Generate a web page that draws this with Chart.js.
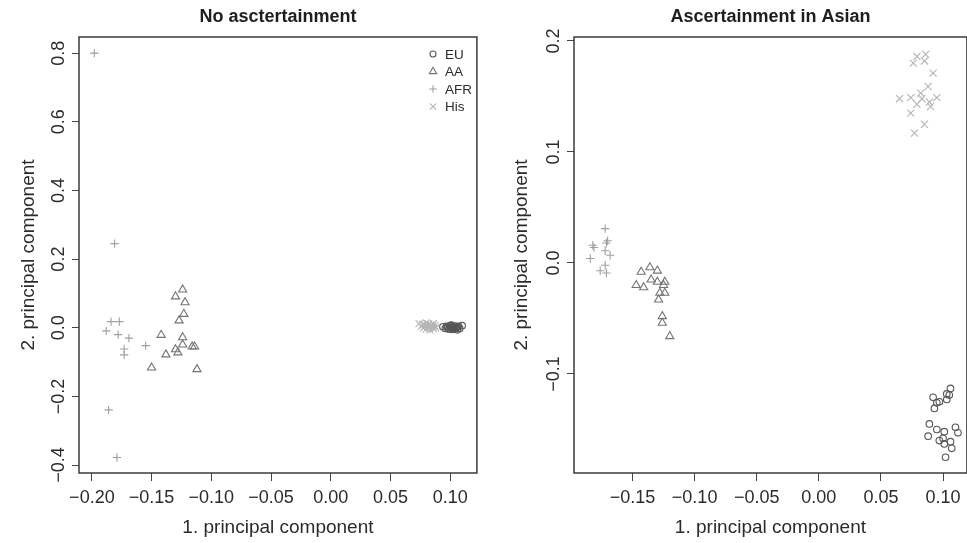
<!DOCTYPE html>
<html>
<head>
<meta charset="utf-8">
<script src="https://cdn.jsdelivr.net/npm/chart.js@4.4.1/dist/chart.umd.min.js"></script>
<style>
  html, body { margin: 0; padding: 0; background: #fff; overflow: hidden; }
  #wrap { position: relative; width: 967px; height: 543px; overflow: hidden; }
  #left { position: absolute; left: 0; top: 0; }
  #right { position: absolute; left: 483px; top: 0; }
</style>
</head>
<body>
<div id="wrap">
  <canvas id="left" width="483" height="543"></canvas>
  <canvas id="right" width="490" height="543"></canvas>
</div>
<script>
// group names, in legend order
const groups = ["EU", "AA", "AFR", "His"];

// panel 1: no ascertainment  [PC1, PC2]
const noAscEU = [[0.094, 0.003], [0.096, -0.002], [0.097, 0.004], [0.098, 0.000], [0.099, -0.004],
  [0.100, 0.002], [0.100, 0.006], [0.101, -0.001], [0.102, 0.003], [0.102, -0.005], [0.103, 0.001],
  [0.104, 0.005], [0.104, -0.003], [0.105, 0.000], [0.106, 0.002], [0.106, -0.006], [0.107, 0.004],
  [0.108, -0.002], [0.110, 0.006], [0.101, 0.008]];
const noAscAA = [[-0.124, 0.111], [-0.130, 0.091], [-0.122, 0.074], [-0.123, 0.040], [-0.127, 0.021],
  [-0.142, -0.021], [-0.124, -0.028], [-0.124, -0.049], [-0.130, -0.063], [-0.128, -0.072],
  [-0.138, -0.078], [-0.116, -0.055], [-0.114, -0.055], [-0.150, -0.116], [-0.112, -0.121]];
const noAscAFR = [[-0.198, 0.800], [-0.181, 0.245], [-0.184, 0.018], [-0.177, 0.018], [-0.188, -0.009],
  [-0.178, -0.020], [-0.169, -0.030], [-0.173, -0.062], [-0.173, -0.079], [-0.155, -0.052],
  [-0.186, -0.239], [-0.179, -0.378]];
const noAscHis = [[0.074, 0.012], [0.076, 0.004], [0.077, 0.010], [0.078, 0.000], [0.079, 0.008],
  [0.080, 0.014], [0.080, -0.004], [0.081, 0.005], [0.082, 0.011], [0.083, 0.001], [0.083, -0.006],
  [0.084, 0.008], [0.085, 0.003], [0.086, 0.012], [0.086, -0.002], [0.087, 0.006], [0.088, 0.000]];

// panel 2: ascertainment in Asian
const ascEU = [[0.106, -0.113], [0.103, -0.118], [0.105, -0.119], [0.092, -0.121], [0.097, -0.125],
  [0.095, -0.126], [0.103, -0.123], [0.093, -0.131], [0.089, -0.145], [0.095, -0.150], [0.101, -0.152],
  [0.110, -0.148], [0.112, -0.153], [0.088, -0.156], [0.097, -0.160], [0.100, -0.158], [0.101, -0.163],
  [0.106, -0.161], [0.107, -0.167], [0.102, -0.175]];
const ascAA = [[-0.143, -0.008], [-0.136, -0.004], [-0.130, -0.007], [-0.147, -0.020], [-0.141, -0.022],
  [-0.135, -0.015], [-0.130, -0.017], [-0.124, -0.017], [-0.125, -0.020], [-0.128, -0.027],
  [-0.124, -0.027], [-0.129, -0.033], [-0.126, -0.048], [-0.126, -0.054], [-0.120, -0.066]];
const ascAFR = [[-0.172, 0.031], [-0.182, 0.016], [-0.170, 0.020], [-0.171, 0.018], [-0.172, 0.011],
  [-0.168, 0.007], [-0.184, 0.004], [-0.172, -0.002], [-0.176, -0.007], [-0.171, -0.009], [-0.181, 0.014]];
const ascHis = [[0.079, 0.186], [0.086, 0.188], [0.076, 0.180], [0.085, 0.182], [0.092, 0.171],
  [0.088, 0.159], [0.065, 0.148], [0.074, 0.149], [0.082, 0.153], [0.083, 0.148], [0.079, 0.143],
  [0.089, 0.145], [0.095, 0.149], [0.090, 0.141], [0.074, 0.135], [0.085, 0.125], [0.077, 0.117]];

// tick values
const noAscXTicks = [-0.20, -0.15, -0.10, -0.05, 0.00, 0.05, 0.10];
const noAscYTicks = [-0.4, -0.2, 0.0, 0.2, 0.4, 0.6, 0.8];
const ascXTicks = [-0.15, -0.10, -0.05, 0.00, 0.05, 0.10];
const ascYTicks = [-0.1, 0.0, 0.1, 0.2];

const symbols = {
  EU:  { pointStyle: "circle",   radius: 3.3, color: "#555555" },
  AA:  { pointStyle: "triangle", radius: 4.7, color: "#747474" },
  AFR: { pointStyle: "cross",    radius: 4.2, color: "#a0a0a0" },
  His: { pointStyle: "crossRot", radius: 5,   color: "#b5b5b5" },
};

const textColor = "#2b2b2b";
const axisColor = "#444";
Chart.defaults.font.family = '"Liberation Sans", Arial, Helvetica, sans-serif';

function fmt(v, d) {
  const s = (Math.abs(v) < 1e-9 ? 0 : v).toFixed(d);
  return s.replace("-", "\u2212");
}

function toPoints(pairs) {
  return pairs.map(p => ({ x: p[0], y: p[1] }));
}

function makeDatasets(series) {
  return groups.map((g, i) => ({
    label: g,
    data: toPoints(series[i]),
    pointStyle: symbols[g].pointStyle,
    pointRadius: symbols[g].radius,
    pointBorderWidth: 1.1,
    borderColor: symbols[g].color,
    backgroundColor: "rgba(0,0,0,0)",
  }));
}

const boxPlugin = {
  id: "box",
  afterDraw(chart) {
    const a = chart.chartArea;
    const ctx = chart.ctx;
    ctx.save();
    ctx.strokeStyle = "#3a3a3a";
    ctx.lineWidth = 1.5;
    ctx.strokeRect(a.left, a.top, a.right - a.left, a.bottom - a.top);
    ctx.restore();
  },
};

const legendPlugin = {
  id: "innerLegend",
  afterDraw(chart, args, opts) {
    if (!opts.show) return;
    const ctx = chart.ctx;
    chart.data.datasets.forEach((ds, i) => {
      const y = opts.y + i * opts.step;
      ctx.save();
      ctx.strokeStyle = ds.borderColor;
      ctx.fillStyle = "rgba(0,0,0,0)";
      ctx.lineWidth = 1.1;
      Chart.helpers.drawPoint(ctx, { pointStyle: ds.pointStyle, radius: ds.pointRadius * 0.9, borderWidth: 1, rotation: 0 }, opts.x, y);
      ctx.fillStyle = textColor;
      ctx.font = '13.5px "Liberation Sans", Arial, sans-serif';
      ctx.textBaseline = "middle";
      ctx.fillText(ds.label, opts.x + 12, y + 1);
      ctx.restore();
    });
  },
};

function makeChart(id, cfg) {
  const xTicks = cfg.xTicks, yTicks = cfg.yTicks;
  return new Chart(document.getElementById(id), {
    type: "scatter",
    data: { datasets: makeDatasets(cfg.series) },
    plugins: [boxPlugin, legendPlugin],
    options: {
      responsive: false,
      animation: false,
      events: [],
      layout: { padding: { left: 0, right: 3, top: 0, bottom: 0 } },
      plugins: {
        legend: { display: false },
        tooltip: { enabled: false },
        title: {
          display: true, text: cfg.title, fullSize: false, color: "#1e1e1e",
          font: { size: 18, weight: "bold" }, padding: { top: 6, bottom: 9.4 },
        },
        innerLegend: cfg.legend,
      },
      scales: {
        x: {
          type: "linear", min: cfg.xMin, max: cfg.xMax,
          border: { display: false },
          grid: { drawOnChartArea: false, tickLength: 8, color: axisColor },
          afterBuildTicks: s => { s.ticks = xTicks.map(v => ({ value: v })); },
          ticks: {
            autoSkip: false, maxRotation: 0, padding: 6, color: textColor,
            font: { size: 18 }, callback: v => fmt(v, 2),
          },
          title: {
            display: true, text: "1. principal component", color: textColor,
            font: { size: 19 }, padding: { top: 0, bottom: 4 },
          },
          afterFit: s => { s.height = 70; },
        },
        y: {
          type: "linear", min: cfg.yMin, max: cfg.yMax,
          border: { display: false },
          grid: { drawOnChartArea: false, tickLength: 7, color: axisColor },
          afterBuildTicks: s => { s.ticks = yTicks.map(v => ({ value: v })); },
          ticks: {
            autoSkip: false, minRotation: 90, maxRotation: 90, crossAlign: "center",
            padding: -5, color: textColor, font: { size: 18 }, callback: v => fmt(v, 1),
          },
          title: {
            display: true, text: "2. principal component", color: textColor,
            font: { size: 19 }, padding: { top: cfg.yTitlePad, bottom: 0 },
          },
          afterFit: s => { s.width = cfg.yWidth; },
        },
      },
    },
  });
}

makeChart("left", {
  title: "No asctertainment",
  series: [noAscEU, noAscAA, noAscAFR, noAscHis],
  xTicks: noAscXTicks, yTicks: noAscYTicks,
  xMin: -0.2108, xMax: 0.1224, yMin: -0.423, yMax: 0.847,
  yWidth: 79, yTitlePad: 17,
  legend: { show: true, x: 433, y: 54, step: 17.5 },
});

makeChart("right", {
  title: "Ascertainment in Asian",
  series: [ascEU, ascAA, ascAFR, ascHis],
  xTicks: ascXTicks, yTicks: ascYTicks,
  xMin: -0.1971, xMax: 0.1192, yMin: -0.1892, yMax: 0.2036,
  yWidth: 91, yTitlePad: 27,
  legend: { show: false },
});
</script>
</body>
</html>
